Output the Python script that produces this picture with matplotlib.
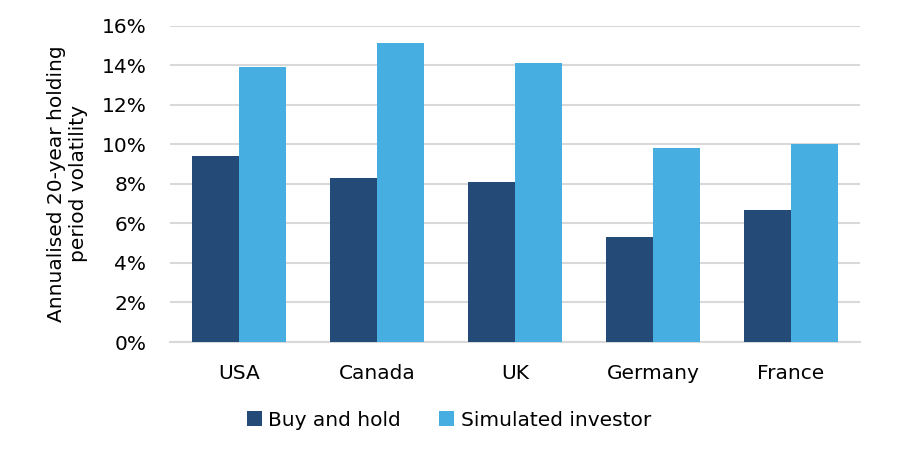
import matplotlib
matplotlib.use("Agg")
import matplotlib.pyplot as plt
import numpy as np
from matplotlib.ticker import FuncFormatter

categories = ["USA", "Canada", "UK", "Germany", "France"]
buy_and_hold = [9.4, 8.3, 8.1, 5.3, 6.7]
simulated_investor = [13.9, 15.1, 14.1, 9.8, 10.0]
series_names = ["Buy and hold", "Simulated investor"]
y_ticks = [0, 2, 4, 6, 8, 10, 12, 14, 16]

FS = 14.5
plt.rcParams['font.family'] = ['DejaVu Sans']
fig = plt.figure(figsize=(9, 4.58), dpi=100)
ax = fig.add_axes([170/900, 1 - 342/458, 690/900, (342 - 25.7)/458])

x = np.arange(len(categories))
w = 0.337
ax.bar(x - w/2, buy_and_hold, w, color="#244A77", label=series_names[0], zorder=3)
ax.bar(x + w/2, simulated_investor, w, color="#46AEE1", label=series_names[1], zorder=3)

ax.set_xlim(-0.5, len(categories) - 0.5)
ax.set_ylim(0, 16)
ax.set_yticks(y_ticks)
ax.yaxis.set_major_formatter(FuncFormatter(lambda v, p: f"{int(v)}%"))
ax.set_xticks(x)
ax.set_xticklabels(categories)
ax.grid(axis='y', color="#D9D9D9", linewidth=1.5, zorder=0)
for s in ["top", "right", "left"]:
    ax.spines[s].set_visible(False)
ax.spines["bottom"].set_color("#D9D9D9")
ax.spines["bottom"].set_linewidth(1.5)
ax.tick_params(axis='both', length=0, labelsize=FS, colors="black")
ax.tick_params(axis='x', pad=15.5)
ax.tick_params(axis='y', pad=17)
ax.set_ylabel("Annualised 20-year holding\nperiod volatility", fontsize=FS, labelpad=10,
              linespacing=1.15)

fig.legend(loc="center", bbox_to_anchor=(449/900, 1 - 420/458), ncol=2, frameon=False,
           fontsize=FS, handlelength=0.75, handleheight=0.75, handletextpad=0.3, columnspacing=1.9)

fig.savefig("out.png", dpi=100, facecolor="white")
